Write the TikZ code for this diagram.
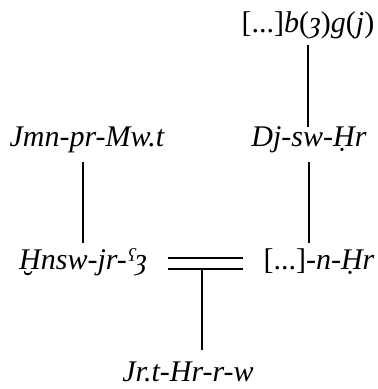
\documentclass[tikz,border=0pt]{standalone}
\usepackage{fontspec}
\setmainfont{Liberation Serif}
\usepackage{tikz}
\usetikzlibrary{positioning, calc}

\begin{document}
\begin{tikzpicture}[x=1pt, y=1pt,
    person/.style={font=\fontsize{30}{36}\selectfont\itshape, inner sep=0pt, anchor=base},
    link/.style={line width=1.3pt}]
  \useasboundingbox (0,0) rectangle (378,389);
  % generations, top to bottom
  \node[person] (bg)   at (308,356) {\upshape[...]\itshape b\upshape(\itshape ȝ\upshape)\itshape g\upshape(\itshape j\upshape)};
  \node[person] (jmn)  at (87,242)  {Jmn-pr-Mw.t};
  \node[person] (djsw) at (309,242) {Dj-sw-Ḥr};
  \node[person] (hnsw) at (83,119)  {Ḫnsw-jr-ˤȝ};
  \node[person] (nhr)  at (319,119) {\upshape[...]\itshape -n-Ḥr};
  \node[person] (jrt)  at (188,7)   {Jr.t-Hr-r-w};
  % marriage bar
  \coordinate (wl)   at (168,131);
  \coordinate (wr)   at (243,131);
  \coordinate (wl2)  at (168,120);
  \coordinate (wr2)  at (243,120);
  \coordinate (stem) at (202,120);
  \draw[link, shorten <=12pt, shorten >=20pt] (bg.base) -- (bg.base |- djsw.base);
  \draw[link, shorten <=15pt, shorten >=27pt] (jmn.base -| hnsw.base) -- (hnsw.base);
  \draw[link, shorten <=15pt, shorten >=27pt] (djsw.base) -- (djsw.base |- nhr.base);
  \draw[link] (wl) -- (wr);
  \draw[link] (wl2) -- (wr2);
  \draw[link, shorten >=32pt] (stem) -- (stem |- jrt.base);
\end{tikzpicture}
\end{document}
